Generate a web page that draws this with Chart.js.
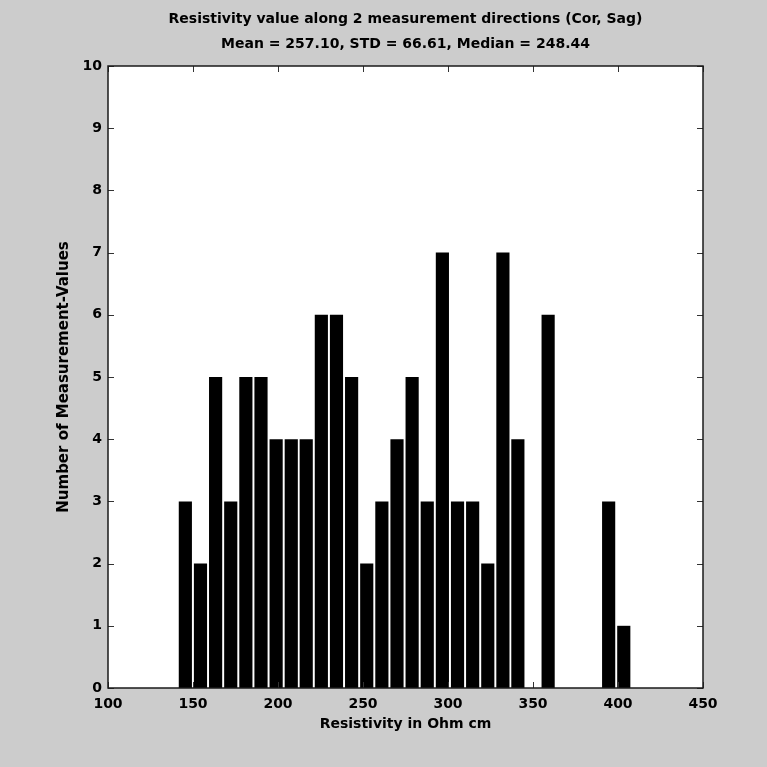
<!DOCTYPE html>
<html>
<head>
<meta charset="utf-8">
<title>Resistivity histogram</title>
<script src="https://cdn.jsdelivr.net/npm/chart.js@4.4.1/dist/chart.umd.min.js"></script>
<style>
    html, body { margin: 0; padding: 0; background: #cccccc; }
    #histGraphic { display: block; }
</style>
</head>
<body>
<canvas id="histGraphic" width="767" height="767"></canvas>
<script>
/* Histogram data */
const binCenters = [145.5, 154.4, 163.3, 172.2, 181.1, 190.0, 198.9, 207.8, 216.6, 225.5,
    234.4, 243.3, 252.2, 261.1, 270.0, 278.9, 287.8, 296.7, 305.6, 314.5,
    323.4, 332.3, 341.1, 350.0, 358.9, 367.8, 376.7, 385.6, 394.5, 403.4];
const counts = [3, 2, 5, 3, 5, 5, 4, 4, 4, 6,
    6, 5, 2, 3, 4, 5, 3, 7, 3, 3,
    2, 7, 4, 0, 6, 0, 0, 0, 3, 1];
const xTickValues = [100, 150, 200, 250, 300, 350, 400, 450];
const yTickValues = [0, 1, 2, 3, 4, 5, 6, 7, 8, 9, 10];
const titleLines = ['Resistivity value along 2 measurement directions (Cor, Sag)',
    'Mean = 257.10, STD = 66.61, Median = 248.44'];
const xTitle = 'Resistivity in Ohm cm';
const yTitle = 'Number of Measurement-Values';

const fontFamily = '"DejaVu Sans", Verdana, sans-serif';

/* gray figure background + white axes box */
const backgroundPlugin = {
    id: 'background',
    beforeDraw: function (chart) {
        let c = chart.ctx;
        let a = chart.chartArea;
        c.save();
        c.fillStyle = '#cccccc';
        c.fillRect(0, 0, chart.width, chart.height);
        c.fillStyle = '#ffffff';
        c.fillRect(a.left, a.top, a.right - a.left, a.bottom - a.top);
        c.restore();
    }
};

/* box around axes with inward ticks on all 4 sides */
const boxPlugin = {
    id: 'box',
    afterDatasetsDraw: function (chart) {
        let c = chart.ctx;
        let a = chart.chartArea;
        let x = chart.scales.x;
        let y = chart.scales.y;
        let len = 6;

        c.save();
        c.strokeStyle = '#333333';
        c.lineWidth = 1;
        c.beginPath();
        x.ticks.forEach(function (t) {
            let px = Math.round(x.getPixelForValue(t.value)) + 0.5;
            c.moveTo(px, a.bottom);
            c.lineTo(px, a.bottom - len);
            c.moveTo(px, a.top);
            c.lineTo(px, a.top + len);
        });
        y.ticks.forEach(function (t) {
            let py = Math.round(y.getPixelForValue(t.value)) + 0.5;
            c.moveTo(a.left, py);
            c.lineTo(a.left + len, py);
            c.moveTo(a.right, py);
            c.lineTo(a.right - len, py);
        });
        c.stroke();

        c.strokeStyle = '#1a1a1a';
        c.lineWidth = 1.5;
        c.strokeRect(a.left, a.top, a.right - a.left, a.bottom - a.top);
        c.restore();
    }
};

let ctx = document.getElementById('histGraphic').getContext('2d');

let graphic = new Chart(ctx, {
    type: 'bar',
    data: {
        datasets: [
            {
                label: 'Number of Measurement-Values',
                backgroundColor: '#000000',
                borderWidth: 0,
                barPercentage: 0.88,
                categoryPercentage: 1.0,
                data: binCenters.map(function (v, i) {
                    return { x: v, y: counts[i] };
                })
            }
        ]
    },
    options: {
        responsive: false,
        animation: false,
        layout: {
            padding: { left: 0, right: 64, top: 0, bottom: 0 }
        },
        plugins: {
            legend: { display: false },
            tooltip: { enabled: false },
            title: {
                display: true,
                fullSize: false,
                text: titleLines,
                color: '#000000',
                font: { family: fontFamily, size: 14, weight: 'bold', lineHeight: '25px' },
                padding: { top: 7, bottom: 9 }
            }
        },
        scales: {
            x: {
                type: 'linear',
                min: 100,
                max: 450,
                offset: false,
                grid: { display: false, drawTicks: false },
                border: { display: false },
                afterBuildTicks: function (scale) {
                    scale.ticks = xTickValues.map(function (v) { return { value: v }; });
                },
                afterFit: function (scale) {
                    scale.height = 79;
                },
                ticks: {
                    autoSkip: false,
                    maxRotation: 0,
                    padding: 8,
                    color: '#000000',
                    font: { family: fontFamily, size: 14, weight: 'bold' }
                },
                title: {
                    display: true,
                    text: xTitle,
                    color: '#000000',
                    font: { family: fontFamily, size: 14, weight: 'bold', lineHeight: '16px' },
                    padding: { top: 0, bottom: 35 }
                }
            },
            y: {
                type: 'linear',
                min: 0,
                max: 10,
                grid: { display: false, drawTicks: false },
                border: { display: false },
                afterBuildTicks: function (scale) {
                    scale.ticks = yTickValues.map(function (v) { return { value: v }; });
                },
                afterFit: function (scale) {
                    scale.width = 108;
                },
                ticks: {
                    autoSkip: false,
                    padding: 6,
                    color: '#000000',
                    font: { family: fontFamily, size: 14, weight: 'bold' }
                },
                title: {
                    display: true,
                    text: yTitle,
                    color: '#000000',
                    font: { family: fontFamily, size: 15, weight: 'bold', lineHeight: '16px' },
                    padding: { top: 56, bottom: 0 }
                }
            }
        }
    },
    plugins: [backgroundPlugin, boxPlugin]
});
</script>
</body>
</html>
